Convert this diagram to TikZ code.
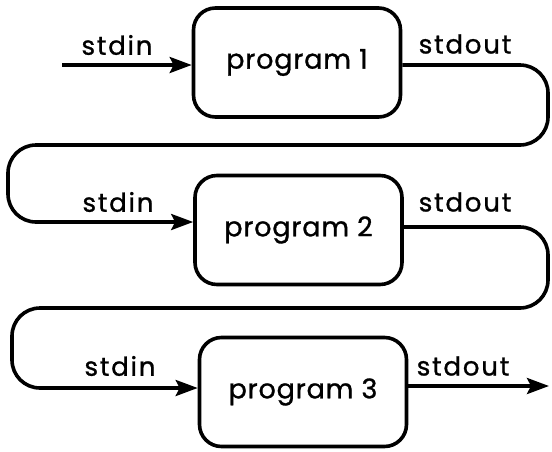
\documentclass[tikz,border=0pt]{standalone}
\usepackage{fontspec}
\setmainfont{Poppins}
\usetikzlibrary{arrows.meta}
\begin{document}
\begin{tikzpicture}[x=1pt,y=-1pt,
  prog/.style={draw=black, line width=3.6pt, rounded corners=22pt, minimum width=207pt, minimum height=109pt, inner sep=0pt, font=\fontsize{27}{30}\selectfont\addfontfeature{FakeBold=1,LetterSpace=3}},
  lbl/.style={font=\fontsize{26}{30}\selectfont\addfontfeature{FakeBold=1,LetterSpace=7}, inner sep=0pt},
  flow/.style={line width=3.6pt, rounded corners=28pt, -{Stealth[length=22pt,width=16pt,inset=4pt]}}]
\useasboundingbox (0,0) rectangle (552,451);
\node[prog] (p1) at (297,62.5) {program 1};
\node[prog] (p2) at (298.5,230) {program 2};
\node[prog] (p3) at (303,392) {program 3};
\coordinate (in1) at (62,65);
\coordinate (out3) at (549,386);
\draw[flow] (in1) -- (p1.west |- in1);
\draw[flow] (p1.east |- 0,65) -- (548,65) -- (548,145) -- (8,145) -- (8,222) -- (p2.west |- 0,222);
\draw[flow] (p2.east |- 0,227) -- (548,227) -- (548,308) -- (12,308) -- (12,388) -- (p3.west |- 0,388);
\draw[flow] (p3.east |- out3) -- (out3);
\node[lbl] (si1) at (117,45) {stdin};
\node[lbl] (so1) at (465,44) {stdout};
\node[lbl] (si2) at (118,202) {stdin};
\node[lbl] (so2) at (465,202) {stdout};
\node[lbl] (si3) at (120,366) {stdin};
\node[lbl] (so3) at (463,366) {stdout};
\end{tikzpicture}
\end{document}
